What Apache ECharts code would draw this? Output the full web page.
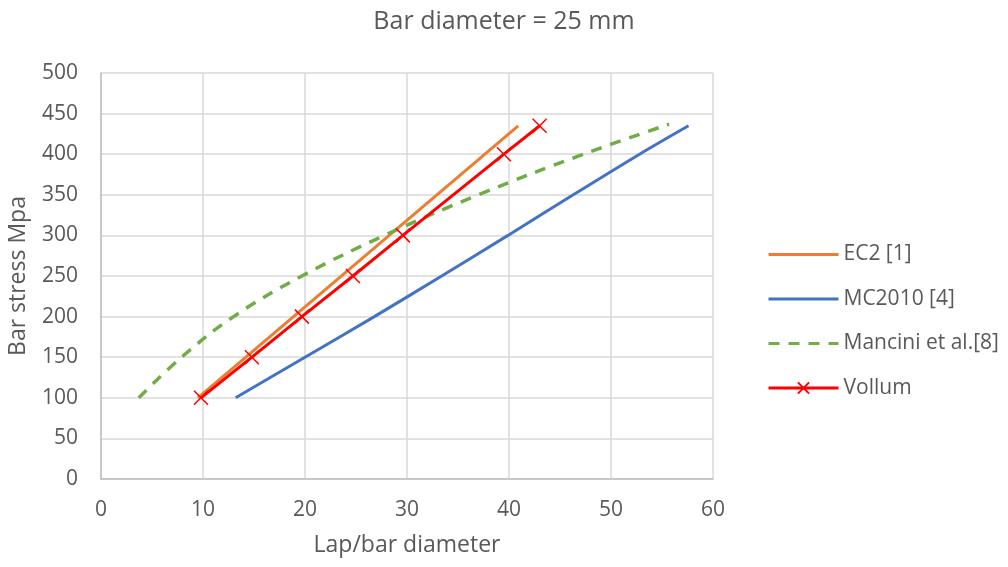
<!DOCTYPE html>
<html>
<head>
<meta charset="utf-8">
<script src="https://cdn.jsdelivr.net/npm/echarts@6/dist/echarts.min.js"></script>
<style>
  html, body { margin: 0; padding: 0; background: #fff; }
  #chart { width: 1008px; height: 567px; }
</style>
</head>
<body>
<div id="chart"></div>
<script>
// values: [lap/bar diameter, bar stress]
var ec2X = [9.5, 14.2, 40.9]
var ec2Y = [100, 150, 435]

var mc2010X = [13.2, 20.0, 26.8, 33.4, 39.9, 46.3, 52.8, 57.6]
var mc2010Y = [100, 150, 200, 250, 300, 350, 400, 435]

var manciniX = [3.7, 7.9, 13.0, 19.7, 27.8, 37.0, 47.3, 55.7]
var manciniY = [100, 150, 200, 250, 300, 350, 400, 437]

var vollumX = [9.8, 14.8, 19.7, 24.7, 29.6, 39.5, 43.0]
var vollumY = [100, 150, 200, 250, 300, 400, 435]

function pairs(xs, ys) {
  var out = []
  for (var i = 0; i < xs.length; i++) {
    out.push([xs[i], ys[i]])
  }
  return out
}

var font = 'Open Sans'
var textColor = '#595959'
var cross = 'path://M0,0L10,10M10,0L0,10'
var noSymbol = { opacity: 0 }

var chart = echarts.init(document.getElementById('chart'))
chart.setOption({
  animation: false,
  textStyle: { fontFamily: font },
  title: {
    text: 'Bar diameter = 25 mm',
    left: 'center',
    top: 4,
    textStyle: { fontFamily: font, fontSize: 25, fontWeight: 'normal', color: textColor }
  },
  grid: {
    left: 101,
    right: 295,
    top: 73,
    bottom: 88,
    outerBoundsMode: 'none'
  },
  xAxis: {
    type: 'value',
    min: 0,
    max: 60,
    interval: 10,
    name: 'Lap/bar diameter',
    nameLocation: 'middle',
    nameGap: 55,
    nameTextStyle: { fontSize: 23, color: textColor },
    axisLine: { lineStyle: { color: '#bfbfbf', width: 1.5 } },
    axisTick: { show: false },
    axisLabel: { fontSize: 21, color: textColor, margin: 21 },
    splitLine: { lineStyle: { color: '#d9d9d9', width: 1.5 } }
  },
  yAxis: {
    type: 'value',
    min: 0,
    max: 500,
    interval: 50,
    name: 'Bar stress Mpa',
    nameLocation: 'middle',
    nameGap: 71,
    nameTextStyle: { fontSize: 23, color: textColor },
    axisLine: { show: true, lineStyle: { color: '#bfbfbf', width: 1.5 } },
    axisTick: { show: false },
    axisLabel: { fontSize: 21, color: textColor, margin: 23 },
    splitLine: { lineStyle: { color: '#d9d9d9', width: 1.5 } }
  },
  legend: {
    orient: 'vertical',
    left: 762,
    top: 239,
    itemWidth: 70,
    itemHeight: 14,
    itemGap: 23.5,
    lineStyle: { width: 3 },
    textStyle: { fontSize: 21, color: textColor },
    data: [
      { name: 'EC2 [1]', itemStyle: noSymbol },
      { name: 'MC2010 [4]', itemStyle: noSymbol },
      { name: 'Mancini et al.[8]', itemStyle: noSymbol },
      'Vollum'
    ]
  },
  series: [
    {
      name: 'EC2 [1]',
      type: 'line',
      symbol: 'none',
      data: pairs(ec2X, ec2Y),
      lineStyle: { color: '#ED7D31', width: 3 },
      itemStyle: { color: '#ED7D31' }
    },
    {
      name: 'MC2010 [4]',
      type: 'line',
      symbol: 'none',
      smooth: 0.3,
      data: pairs(mc2010X, mc2010Y),
      lineStyle: { color: '#4472C4', width: 3 },
      itemStyle: { color: '#4472C4' }
    },
    {
      name: 'Mancini et al.[8]',
      type: 'line',
      symbol: 'none',
      smooth: 0.4,
      data: pairs(manciniX, manciniY),
      lineStyle: { color: '#70AD47', width: 3.5, type: [11, 9] },
      itemStyle: { color: '#70AD47' }
    },
    {
      name: 'Vollum',
      type: 'line',
      symbol: cross,
      symbolSize: 14,
      data: pairs(vollumX, vollumY),
      lineStyle: { color: '#FF0000', width: 3 },
      itemStyle: { color: '#FF0000', borderColor: '#FF0000', borderWidth: 1.5 }
    }
  ]
})
</script>
</body>
</html>
